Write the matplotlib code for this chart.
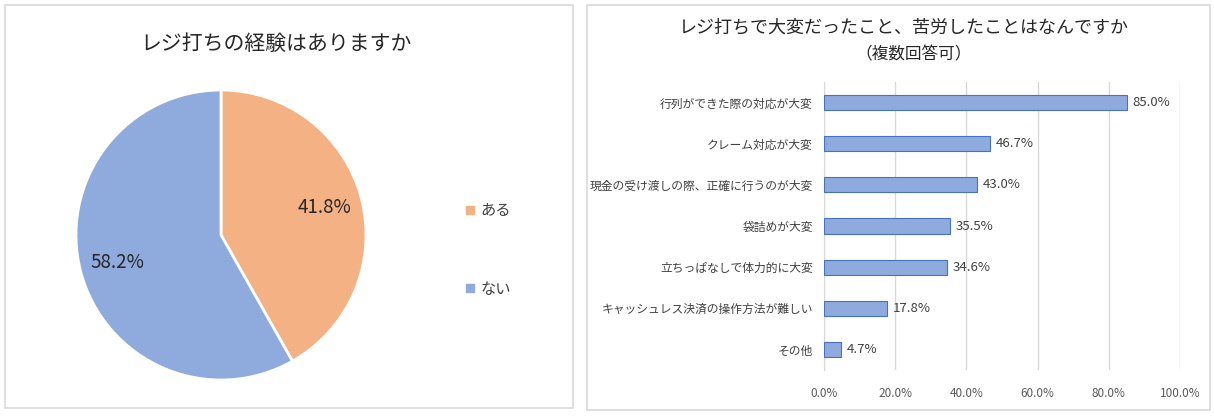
import matplotlib.pyplot as plt
from matplotlib.patches import Rectangle
from matplotlib.lines import Line2D

plt.rcParams['font.family'] = ['Noto Sans CJK JP', 'DejaVu Sans']

# datos del grafico circular
pie_labels = ['ある', 'ない']
pie_values = [41.8, 58.2]
pie_colors = ['#F4B183', '#8FAADC']

# datos del grafico de barras
categorias = ['行列ができた際の対応が大変', 'クレーム対応が大変', '現金の受け渡しの際、正確に行うのが大変',
              '袋詰めが大変', '立ちっぱなしで体力的に大変', 'キャッシュレス決済の操作方法が難しい', 'その他']
valores = [85.0, 46.7, 43.0, 35.5, 34.6, 17.8, 4.7]
ticks_x = [0, 20, 40, 60, 80, 100]

W, H = 1214, 419
fig = plt.figure(figsize=(W / 100, H / 100), dpi=100)
fig.patch.set_facecolor('white')

def px_rect(x0, y0, x1, y1):
    # convierte pixeles (origen arriba-izquierda) a fraccion de figura
    return [x0 / W, 1 - y1 / H, (x1 - x0) / W, (y1 - y0) / H]

# marcos de los paneles
for x0, y0, x1, y1 in [(5, 5, 573, 408), (587, 5, 1210, 410)]:
    fig.patches.append(Rectangle((x0 / W, 1 - y1 / H), (x1 - x0) / W, (y1 - y0) / H,
                                 transform=fig.transFigure, fill=False,
                                 edgecolor='#D9D9D9', linewidth=1.2))

# ---- grafico circular ----
cx, cy, r = 221, 235, 145
ax1 = fig.add_axes(px_rect(cx - r - 2, cy - r - 2, cx + r + 2, cy + r + 2))
wedges, textos, autotextos = ax1.pie(pie_values, colors=pie_colors, startangle=90, counterclock=False,
                                     autopct='%.1f%%', pctdistance=0.74, radius=1.0,
                                     wedgeprops=dict(edgecolor='white', linewidth=2))
for t in autotextos:
    t.set_fontsize(13.5)
    t.set_color('#262626')
lim = 1 + 2 / r
ax1.set_xlim(-lim, lim)
ax1.set_ylim(-lim, lim)
ax1.set_aspect('equal')

fig.text(276 / W, 1 - 44 / H, 'レジ打ちの経験はありますか', ha='center', va='center',
         fontsize=15, color='#262626')

handles = [Line2D([], [], marker='s', linestyle='none', markersize=6,
                  markerfacecolor=c, markeredgecolor=c) for c in pie_colors]
fig.legend(handles, pie_labels, loc='center left', bbox_to_anchor=(450 / W, 1 - 250 / H),
           frameon=False, fontsize=11, labelspacing=4.0, handletextpad=0.3,
           handlelength=0.8, labelcolor='#404040')

# ---- grafico de barras ----
ax2 = fig.add_axes(px_rect(824, 82, 1180, 370))
ypos = list(range(len(categorias)))
ax2.barh(ypos, valores, height=0.37, color='#8FAADC', edgecolor='#4472C4', linewidth=0.8, zorder=3)
ax2.set_ylim(len(categorias) - 0.5, -0.5)
ax2.set_xlim(0, 100)
ax2.set_yticks(ypos)
ax2.set_yticklabels(categorias, fontsize=8.5, color='#404040')
ax2.set_xticks(ticks_x)
ax2.set_xticklabels([f'{v:.1f}%' for v in ticks_x], fontsize=8.5, color='#595959')
ax2.tick_params(length=0, pad=8)
ax2.tick_params(axis='x', pad=12)
ax2.grid(axis='x', color='#D9D9D9', linewidth=1, zorder=0)
for s in ['top', 'right', 'bottom']:
    ax2.spines[s].set_visible(False)
ax2.spines['left'].set_color('#D9D9D9')
for y, v in zip(ypos, valores):
    ax2.annotate(f'{v:.1f}%', (v, y), xytext=(4, 0), textcoords='offset points',
                 va='center', ha='left', fontsize=9.5, color='#404040')

fig.text(904 / W, 1 - 27 / H, 'レジ打ちで大変だったこと、苦労したことはなんですか', ha='center', va='center',
         fontsize=13, color='#262626')
fig.text(914 / W, 1 - 55 / H, '（複数回答可）', ha='center', va='center',
         fontsize=12, color='#262626')

fig.savefig('out.png', dpi=100)
